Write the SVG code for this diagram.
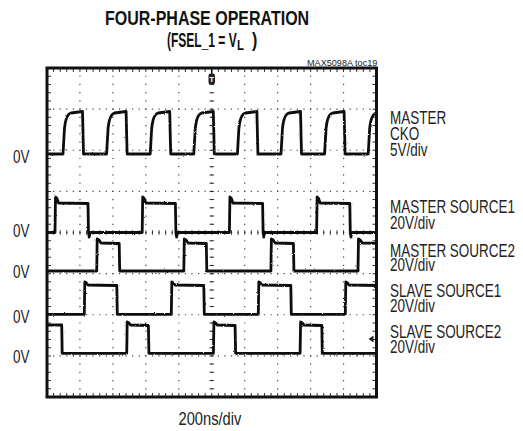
<svg xmlns="http://www.w3.org/2000/svg" width="523" height="431" viewBox="0 0 523 431">
<style>
.t{font-family:"Liberation Sans",Arial,sans-serif;fill:#222;}
.title{font-weight:bold;font-size:20px;fill:#111;}
.lab{font-size:17.5px;}
.grid{stroke:#444;stroke-width:1.2;fill:none;}
.gh{stroke-dasharray:1.2 5.39;stroke-dashoffset:0.6;}
.gv{stroke-dasharray:1.2 7.025;stroke-dashoffset:0.6;}
.tick{stroke:#333;fill:none;}
.tr{fill:none;stroke:#111;stroke-width:2.8;stroke-linejoin:round;filter:url(#noise);}
</style>
<defs>
<clipPath id="plot"><rect x="47" y="68" width="329.5" height="329"/></clipPath>
<filter id="noise" x="-5%" y="-20%" width="110%" height="140%">
<feTurbulence type="fractalNoise" baseFrequency="0.9" numOctaves="1" seed="4" result="n"/>
<feDisplacementMap in="SourceGraphic" in2="n" scale="2.2" xChannelSelector="R" yChannelSelector="G"/>
</filter>
</defs>
<rect width="523" height="431" fill="#fff"/>

<g id="title">
<text class="t title" transform="translate(105,25) scale(0.8,1)" x="0" y="0">FOUR-PHASE OPERATION</text>
<text class="t title" transform="translate(167,47) scale(0.6,1)" x="0" y="0">(FSEL_1 = V</text>
<text class="t title" transform="translate(237,49.5) scale(0.76,1)" x="0" y="0" style="font-size:15px">L</text>
<text class="t title" transform="translate(252,47) scale(0.8,1)" x="0" y="0">)</text>
<text class="t" transform="translate(307,66) scale(0.96,1)" x="0" y="0" style="font-size:9.5px">MAX5098A toc19</text>
</g>

<g id="graticule">
<g class="grid gv">
<line x1="79.95" y1="68" x2="79.95" y2="397"/>
<line x1="112.9" y1="68" x2="112.9" y2="397"/>
<line x1="145.85" y1="68" x2="145.85" y2="397"/>
<line x1="178.8" y1="68" x2="178.8" y2="397"/>
<line x1="211.75" y1="68" x2="211.75" y2="397"/>
<line x1="244.7" y1="68" x2="244.7" y2="397"/>
<line x1="277.65" y1="68" x2="277.65" y2="397"/>
<line x1="310.6" y1="68" x2="310.6" y2="397"/>
<line x1="343.55" y1="68" x2="343.55" y2="397"/>
</g>
<g class="grid gh">
<line x1="47" y1="109.125" x2="376.5" y2="109.125"/>
<line x1="47" y1="150.25" x2="376.5" y2="150.25"/>
<line x1="47" y1="191.375" x2="376.5" y2="191.375"/>
<line x1="47" y1="232.5" x2="376.5" y2="232.5"/>
<line x1="47" y1="273.625" x2="376.5" y2="273.625"/>
<line x1="47" y1="314.75" x2="376.5" y2="314.75"/>
<line x1="47" y1="355.875" x2="376.5" y2="355.875"/>
</g>
<g class="tick">
<line x1="47" y1="70" x2="376.5" y2="70" stroke-width="4" stroke-dasharray="1 5.59" stroke-dashoffset="0.5"/>
<line x1="47" y1="395" x2="376.5" y2="395" stroke-width="4" stroke-dasharray="1 5.59" stroke-dashoffset="0.5"/>
<line x1="49" y1="68" x2="49" y2="397" stroke-width="4" stroke-dasharray="1 7.225" stroke-dashoffset="0.5"/>
<line x1="374.5" y1="68" x2="374.5" y2="397" stroke-width="4" stroke-dasharray="1 7.225" stroke-dashoffset="0.5"/>
<line x1="47" y1="232.5" x2="376.5" y2="232.5" stroke-width="4.5" stroke-dasharray="1 5.59" stroke-dashoffset="0.5"/>
<line x1="211.75" y1="68" x2="211.75" y2="397" stroke-width="4.5" stroke-dasharray="1 7.225" stroke-dashoffset="0.5"/>
</g>
<rect x="47" y="68" width="329.5" height="329" fill="none" stroke="#111" stroke-width="3"/>
</g>

<g id="traces" clip-path="url(#plot)">
<path id="cko" class="tr" d="M47,154 L63,154 L64.5,128 Q66,114 71,113 L82.5,111.5 L83.5,154 L106.6,154 L108.1,128 Q109.6,114 114.6,113 L126.1,111.5 L127.1,154 L150.2,154 L151.7,128 Q153.2,114 158.2,113 L169.7,111.5 L170.7,154 L193.8,154 L195.3,128 Q196.8,114 201.8,113 L213.3,111.5 L214.3,154 L237.4,154 L238.9,128 Q240.4,114 245.4,113 L256.9,111.5 L257.9,154 L281,154 L282.5,128 Q284,114 289,113 L300.5,111.5 L301.5,154 L324.6,154 L326.1,128 Q327.6,114 332.6,113 L344.1,111.5 L345.1,154 L368.2,154 L369.7,128 Q371.2,114 376.2,113 L380,112"/>
<path id="ms1" class="tr" d="M47,232.5 L55,232.5 L55.5,197 L57,198.5 L58.5,203 L88,203.5 L88.5,232.5 L89.2,237 L90,232.5 L142.2,232.5 L142.7,197 L144.2,198.5 L145.7,203 L175.4,203.5 L175.9,232.5 L176.6,237 L177.4,232.5 L229.4,232.5 L229.9,197 L231.4,198.5 L232.9,203 L262.6,203.5 L263.1,232.5 L263.8,237 L264.6,232.5 L316.6,232.5 L317.1,197 L318.6,198.5 L320.1,203 L349.8,203.5 L350.3,232.5 L351,237 L351.8,232.5 L380,232.5"/>
<path id="ms2" class="tr" d="M47,271 L96.7,271 L97.2,239 L99,240 L101,243 L119.2,243.5 L119.7,271 L183.8,271 L184.3,239 L186.1,240 L188.1,243 L206.3,243.5 L206.8,271 L270.9,271 L271.4,239 L273.2,240 L275.2,243 L293.4,243.5 L293.9,271 L358,271 L358.5,239 L360.3,240 L362.3,243 L380,243.5"/>
<path id="ss1" class="tr" d="M47,314.3 L84.3,314.3 L84.8,282 L86.5,283 L88,285 L116.8,285.5 L117.3,314.3 L171.3,314.3 L171.8,282 L173.5,283 L175,285 L203.8,285.5 L204.3,314.3 L258.3,314.3 L258.8,282 L260.5,283 L262,285 L290.8,285.5 L291.3,314.3 L345.3,314.3 L345.8,282 L347.5,283 L349,285 L380,285.5"/>
<path id="ss2" class="tr" d="M47,325 L61.7,325 L62.2,353.3 L126.7,353.3 L127.2,322 L129,323 L130.5,325 L148.4,325.5 L148.9,353.3 L213.4,353.3 L213.9,322 L215.7,323 L217.2,325 L235.1,325.5 L235.6,353.3 L300.1,353.3 L300.6,322 L302.4,323 L303.9,325 L321.8,325.5 L322.3,353.3 L380,353.3"/>
</g>

<g id="markers">
<line x1="211.75" y1="68" x2="211.75" y2="74" stroke="#111" stroke-width="1.5"/>
<rect x="208.5" y="73.5" width="6.5" height="11" rx="2" fill="#222"/>
<text class="t" x="211.75" y="82" style="font-size:8px;fill:#fff;font-weight:bold" text-anchor="middle">T</text>
<polygon points="368.5,339 373.5,335.5 373.5,342.5" fill="#222"/>
</g>

<g id="left-labels" class="t lab">
<text transform="translate(13,163) scale(0.77,1)" x="0" y="0">0V</text>
<text transform="translate(13,237) scale(0.77,1)" x="0" y="0">0V</text>
<text transform="translate(13,278) scale(0.77,1)" x="0" y="0">0V</text>
<text transform="translate(13,323) scale(0.77,1)" x="0" y="0">0V</text>
<text transform="translate(13,363) scale(0.77,1)" x="0" y="0">0V</text>
</g>

<g id="right-labels" class="t lab">
<text transform="translate(390,123.5) scale(0.77,1)" x="0" y="0"><tspan x="0" y="0">MASTER</tspan><tspan x="0" y="16.5">CKO</tspan><tspan x="0" y="33">5V/div</tspan></text>
<text transform="translate(390,213) scale(0.77,1)" x="0" y="0"><tspan x="0" y="0">MASTER SOURCE1</tspan><tspan x="0" y="16">20V/div</tspan></text>
<text transform="translate(390,256.5) scale(0.77,1)" x="0" y="0"><tspan x="0" y="0">MASTER SOURCE2</tspan><tspan x="0" y="14.5">20V/div</tspan></text>
<text transform="translate(390,297) scale(0.77,1)" x="0" y="0"><tspan x="0" y="0">SLAVE SOURCE1</tspan><tspan x="0" y="14.5">20V/div</tspan></text>
<text transform="translate(390,338) scale(0.77,1)" x="0" y="0"><tspan x="0" y="0">SLAVE SOURCE2</tspan><tspan x="0" y="14.5">20V/div</tspan></text>
</g>

<g id="x-label" class="t lab">
<text transform="translate(178.5,424.5) scale(0.84,1)" x="0" y="0">200ns/div</text>
</g>
</svg>
